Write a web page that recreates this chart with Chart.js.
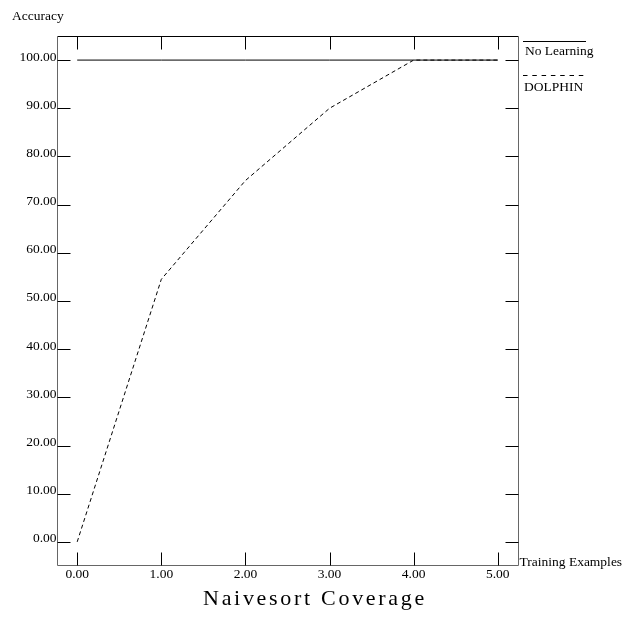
<!DOCTYPE html>
<html>
<head>
<meta charset="utf-8">
<script src="https://cdn.jsdelivr.net/npm/chart.js@4/dist/chart.umd.min.js"></script>
<style>
  html, body { margin: 0; padding: 0; background: #fff; }
  canvas { display: block; }
</style>
</head>
<body>
<canvas id="chart" width="634" height="618"></canvas>
<script>
// data
const trainingExamples = [0, 1, 2, 3, 4, 5];
const noLearning = [100, 100, 100, 100, 100, 100];
const dolphin = [0, 54.5, 75, 90, 100, 100];
const xTicks = [0, 1, 2, 3, 4, 5];
const yTicks = [0, 10, 20, 30, 40, 50, 60, 70, 80, 90, 100];

const SMALL = '13.5px "Liberation Serif", "Times New Roman", serif';

const frame = {
  id: 'frame',
  afterDraw(chart) {
    const ctx = chart.ctx;
    const a = chart.chartArea;
    const xs = chart.scales.x, ys = chart.scales.y;
    const L = Math.round(a.left) + 0.5, R = Math.round(a.right) + 0.5;
    const T = Math.round(a.top) + 0.5, B = Math.round(a.bottom) + 0.5;
    ctx.save();
    ctx.lineWidth = 1;

    // box
    ctx.strokeStyle = '#000';
    ctx.beginPath(); ctx.moveTo(L, T); ctx.lineTo(R, T); ctx.stroke();
    ctx.strokeStyle = '#666';
    ctx.beginPath();
    ctx.moveTo(L, T); ctx.lineTo(L, B); ctx.lineTo(R, B); ctx.lineTo(R, T);
    ctx.stroke();

    // inward ticks
    ctx.strokeStyle = '#000';
    ctx.beginPath();
    yTicks.forEach(v => {
      const y = Math.round(ys.getPixelForValue(v)) + 0.5;
      ctx.moveTo(L, y); ctx.lineTo(L + 13, y);
      ctx.moveTo(R, y); ctx.lineTo(R - 13, y);
    });
    xTicks.forEach(v => {
      const x = Math.round(xs.getPixelForValue(v)) + 0.5;
      ctx.moveTo(x, B); ctx.lineTo(x, B - 13);
      ctx.moveTo(x, T); ctx.lineTo(x, T + 13);
    });
    ctx.stroke();

    // tick labels
    ctx.fillStyle = '#000';
    ctx.font = SMALL;
    ctx.textAlign = 'right';
    ctx.textBaseline = 'alphabetic';
    yTicks.forEach(v => {
      ctx.fillText(v.toFixed(2), L - 1, ys.getPixelForValue(v) + 0.5);
    });
    ctx.textAlign = 'center';
    xTicks.forEach(v => {
      ctx.fillText(v.toFixed(2), xs.getPixelForValue(v), B + 12);
    });

    // axis names
    ctx.textAlign = 'left';
    ctx.fillText('Accuracy', 12, 20);
    ctx.fillText('Training Examples', R + 1, B);

    // legend
    ctx.beginPath(); ctx.moveTo(523, 41.5); ctx.lineTo(586, 41.5); ctx.stroke();
    ctx.fillText('No Learning', 525, 55);
    ctx.setLineDash([4.5, 4.8]);
    ctx.beginPath(); ctx.moveTo(523, 75.5); ctx.lineTo(584, 75.5); ctx.stroke();
    ctx.setLineDash([]);
    ctx.fillText('DOLPHIN', 524, 91);

    // title
    ctx.font = '22px "Liberation Serif", "Times New Roman", serif';
    ctx.letterSpacing = '2.7px';
    ctx.textAlign = 'center';
    ctx.fillText('Naivesort Coverage', 315, 605);
    ctx.restore();
  }
};

new Chart(document.getElementById('chart'), {
  type: 'line',
  data: {
    labels: trainingExamples,
    datasets: [
      {
        label: 'No Learning',
        data: trainingExamples.map((x, i) => ({ x: x, y: noLearning[i] })),
        borderColor: '#000',
        borderWidth: 1,
        pointRadius: 0,
        tension: 0
      },
      {
        label: 'DOLPHIN',
        data: trainingExamples.map((x, i) => ({ x: x, y: dolphin[i] })),
        borderColor: '#000',
        borderWidth: 1,
        borderDash: [4, 3],
        pointRadius: 0,
        tension: 0
      }
    ]
  },
  options: {
    responsive: false,
    animation: false,
    devicePixelRatio: 1,
    layout: { padding: { left: 57, right: 116, top: 36, bottom: 53 } },
    plugins: { legend: { display: false }, tooltip: { enabled: false } },
    scales: {
      x: { type: 'linear', display: false, min: -0.24, max: 5.24 },
      y: { type: 'linear', display: false, min: -4.8, max: 105 }
    }
  },
  plugins: [frame]
});
</script>
</body>
</html>
